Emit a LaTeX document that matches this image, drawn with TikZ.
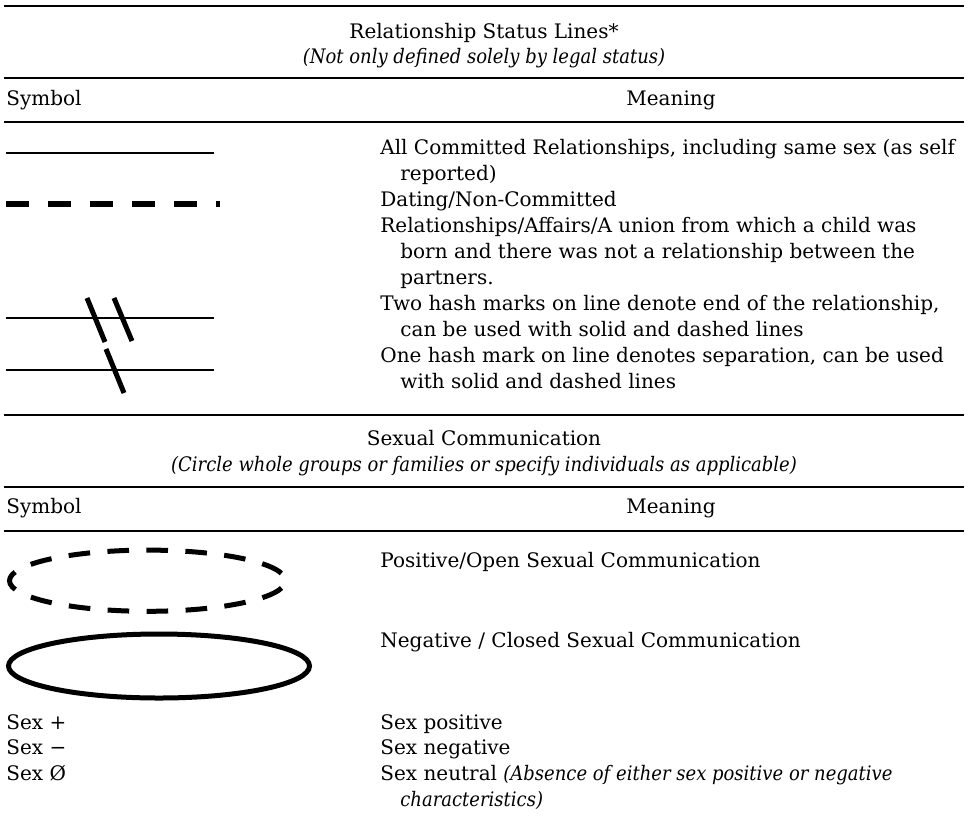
\documentclass[tikz,border=0pt]{standalone}
\usepackage{fontspec}
\setmainfont{DejaVu Serif}[ItalicFeatures={FakeStretch=0.9}]
\newcommand{\bodyfont}{\fontsize{10}{12}\selectfont}
\begin{document}
\begin{tikzpicture}[x=0.5pt,y=-0.5pt,
  txt/.style={anchor=base west,inner sep=0pt,font=\bodyfont},
  ctxt/.style={anchor=base,inner sep=0pt,font=\bodyfont},
  toprule/.style={line width=0.9pt},
  midrule/.style={line width=0.7pt},
  relline/.style={line width=1.35pt},
  hashmark/.style={line width=2.5pt},
  dashline/.style={line width=3pt,dash pattern=on 11.5pt off 9.5pt},
  ringdash/.style={line width=2.5pt,dash pattern=on 10.8pt off 8.7pt,dash phase=15.15pt},
  ringsolid/.style={line width=2.5pt}]
\useasboundingbox (0,0) rectangle (968,819);
% ---------- section 1 ----------
\draw[toprule] (4,6) -- (964,6);
\node[ctxt] (h1) at (484,38) {Relationship Status Lines*};
\node[ctxt] (h1b) at (484,63) {\itshape (Not only defined solely by legal status)};
\draw[midrule] (4,78) -- (964,78);
\node[txt] (s1) at (6,105) {Symbol};
\node[ctxt] (me1) at (671,105) {Meaning};
\draw[midrule] (4,122) -- (964,122);
% meanings
\node[txt] (m1) at (380,154) {All Committed Relationships, including same sex (as self};
\node[txt] (m2) at (400,180) {reported)};
\node[txt] (m3) at (380,206) {Dating/Non-Committed};
\node[txt] (m4) at (380,232) {Relationships/Affairs/A union from which a child was};
\node[txt] (m5) at (400,258) {born and there was not a relationship between the};
\node[txt] (m6) at (400,284) {partners.};
\node[txt] (m7) at (380,310) {Two hash marks on line denote end of the relationship,};
\node[txt] (m8) at (400,336) {can be used with solid and dashed lines};
\node[txt] (m9) at (380,362) {One hash mark on line denotes separation, can be used};
\node[txt] (m10) at (400,388) {with solid and dashed lines};
% symbols
\draw[relline] (6,153) -- (214,153);
\draw[dashline] (6,204) -- (220,204);
\draw[relline] (6,318) -- (214,318);
\draw[hashmark] (87,298) -- (105,342);
\draw[hashmark] (114,298) -- (132,341);
\draw[relline] (6,370) -- (214,370);
\draw[hashmark] (106,349) -- (124,393);
% ---------- section 2 ----------
\draw[midrule] (4,415) -- (964,415);
\node[ctxt] (h2) at (484,445) {Sexual Communication};
\node[ctxt] (h2b) at (484,471) {\itshape (Circle whole groups or families or specify individuals as applicable)};
\draw[midrule] (4,487) -- (964,487);
\node[txt] (s2) at (6,513) {Symbol};
\node[ctxt] (me2) at (671,513) {Meaning};
\draw[midrule] (4,531) -- (964,531);
\draw[ringdash] (147.5,580.7) ellipse [x radius=69pt, y radius=15.3pt];
\node[txt] (p1) at (380,567.5) {Positive/Open Sexual Communication};
\draw[ringsolid] (159,666) ellipse [x radius=75.25pt, y radius=16pt];
\node[txt] (p2) at (380,647.5) {Negative / Closed Sexual Communication};
\node[txt] (x1) at (6,729) {Sex +};
\node[txt] (x2) at (6,754.5) {Sex −};
\node[txt] (x3) at (6,780) {Sex Ø};
\node[txt] (y1) at (380,729) {Sex positive};
\node[txt] (y2) at (380,754.5) {Sex negative};
\node[txt] (y3) at (380,780) {Sex neutral \textit{(Absence of either sex positive or negative}};
\node[txt] (y4) at (400,806) {\itshape characteristics)};
\end{tikzpicture}
\end{document}
